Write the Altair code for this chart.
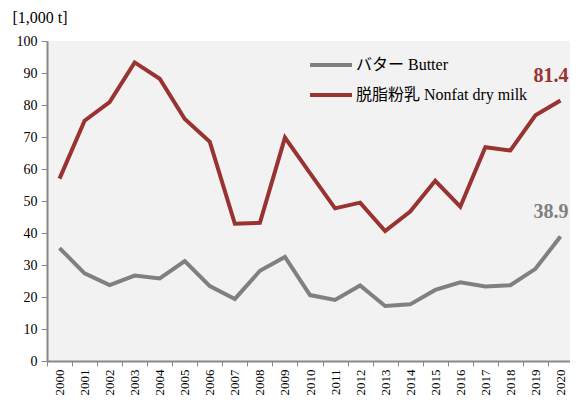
import altair as alt
import pandas as pd

years = [str(y) for y in range(2000, 2021)]
butter = [35.3, 27.4, 23.7, 26.7, 25.8, 31.2, 23.4, 19.4, 28.2, 32.5,
          20.6, 19.1, 23.6, 17.2, 17.7, 22.2, 24.6, 23.3, 23.7, 28.8, 38.9]
skim = [57.0, 75.1, 80.9, 93.3, 88.2, 75.6, 68.5, 42.9, 43.2, 69.8,
        58.7, 47.7, 49.5, 40.6, 46.7, 56.3, 48.2, 66.8, 65.8, 76.8, 81.4]
series_names = ["バター Butter", "脱脂粉乳 Nonfat dry milk"]
colors = ["#808080", "#993331"]

rows = []
for i, y in enumerate(years):
    rows.append({"year": y, "value": butter[i], "series": series_names[0]})
    rows.append({"year": y, "value": skim[i], "series": series_names[1]})
df = pd.DataFrame(rows)
last = df[df["year"] == years[-1]]

FONT = "Liberation Serif, Noto Sans CJK JP, serif"

xscale = alt.Scale(type="band", paddingInner=0, paddingOuter=0, range=[0, 526])
x = alt.X("year:O", bandPosition=0.5, scale=xscale,
          axis=alt.Axis(title=None, labelAngle=-90, labelFont=FONT, labelFontSize=13,
                        labelColor="#000", tickBand="extent", tickSize=5,
                        domainColor="#888", tickColor="#888", domainWidth=2,
                        labelPadding=3, labelBaseline="middle", labelAlign="right"))
yenc = alt.Y("value:Q",
             scale=alt.Scale(domain=[0, 100], nice=False),
             axis=alt.Axis(values=list(range(0, 101, 10)), title="[1,000 t]",
                           titleAngle=0, titleAlign="left", titleBaseline="middle",
                           titleX=-35, titleY=-24, titleFont=FONT, titleFontSize=16,
                           titleFontWeight="normal", titleColor="#000",
                           labelFont=FONT, labelFontSize=14, labelColor="#000",
                           labelOverlap=False, grid=False, tickSize=6,
                           domainColor="#888", tickColor="#888",
                           domainWidth=2, labelPadding=4))
color = alt.Color("series:N",
                  scale=alt.Scale(domain=series_names, range=colors),
                  legend=alt.Legend(title=None, orient="none", legendX=261, legendY=12,
                                    symbolType="M-1,0H3.2", symbolStrokeWidth=4,
                                    symbolSize=400, labelFont=FONT, labelFontSize=16,
                                    labelColor="#000", rowPadding=10, labelOffset=24,
                                    labelLimit=400))

lines = alt.Chart(df).mark_line(strokeWidth=4, clip=False).encode(x=x, y=yenc, color=color)
labels = alt.Chart(last).mark_text(font=FONT, fontSize=20, fontWeight="bold", dy=-25, dx=8,
                                   align="right", baseline="middle").encode(
    x=x, y=yenc,
    text=alt.Text("value:Q", format=".1f"),
    color=alt.Color("series:N", scale=alt.Scale(domain=series_names, range=colors), legend=None))

chart = (lines + labels).properties(
    width=523, height=320,
    autosize=alt.AutoSizeParams(type="none"),
    padding={"left": 39, "top": 33, "right": 0, "bottom": 35},
).configure_view(fill="#f2f2f2", stroke=None)

chart.save("out.html", embed_options={"renderer": "svg", "actions": False})
